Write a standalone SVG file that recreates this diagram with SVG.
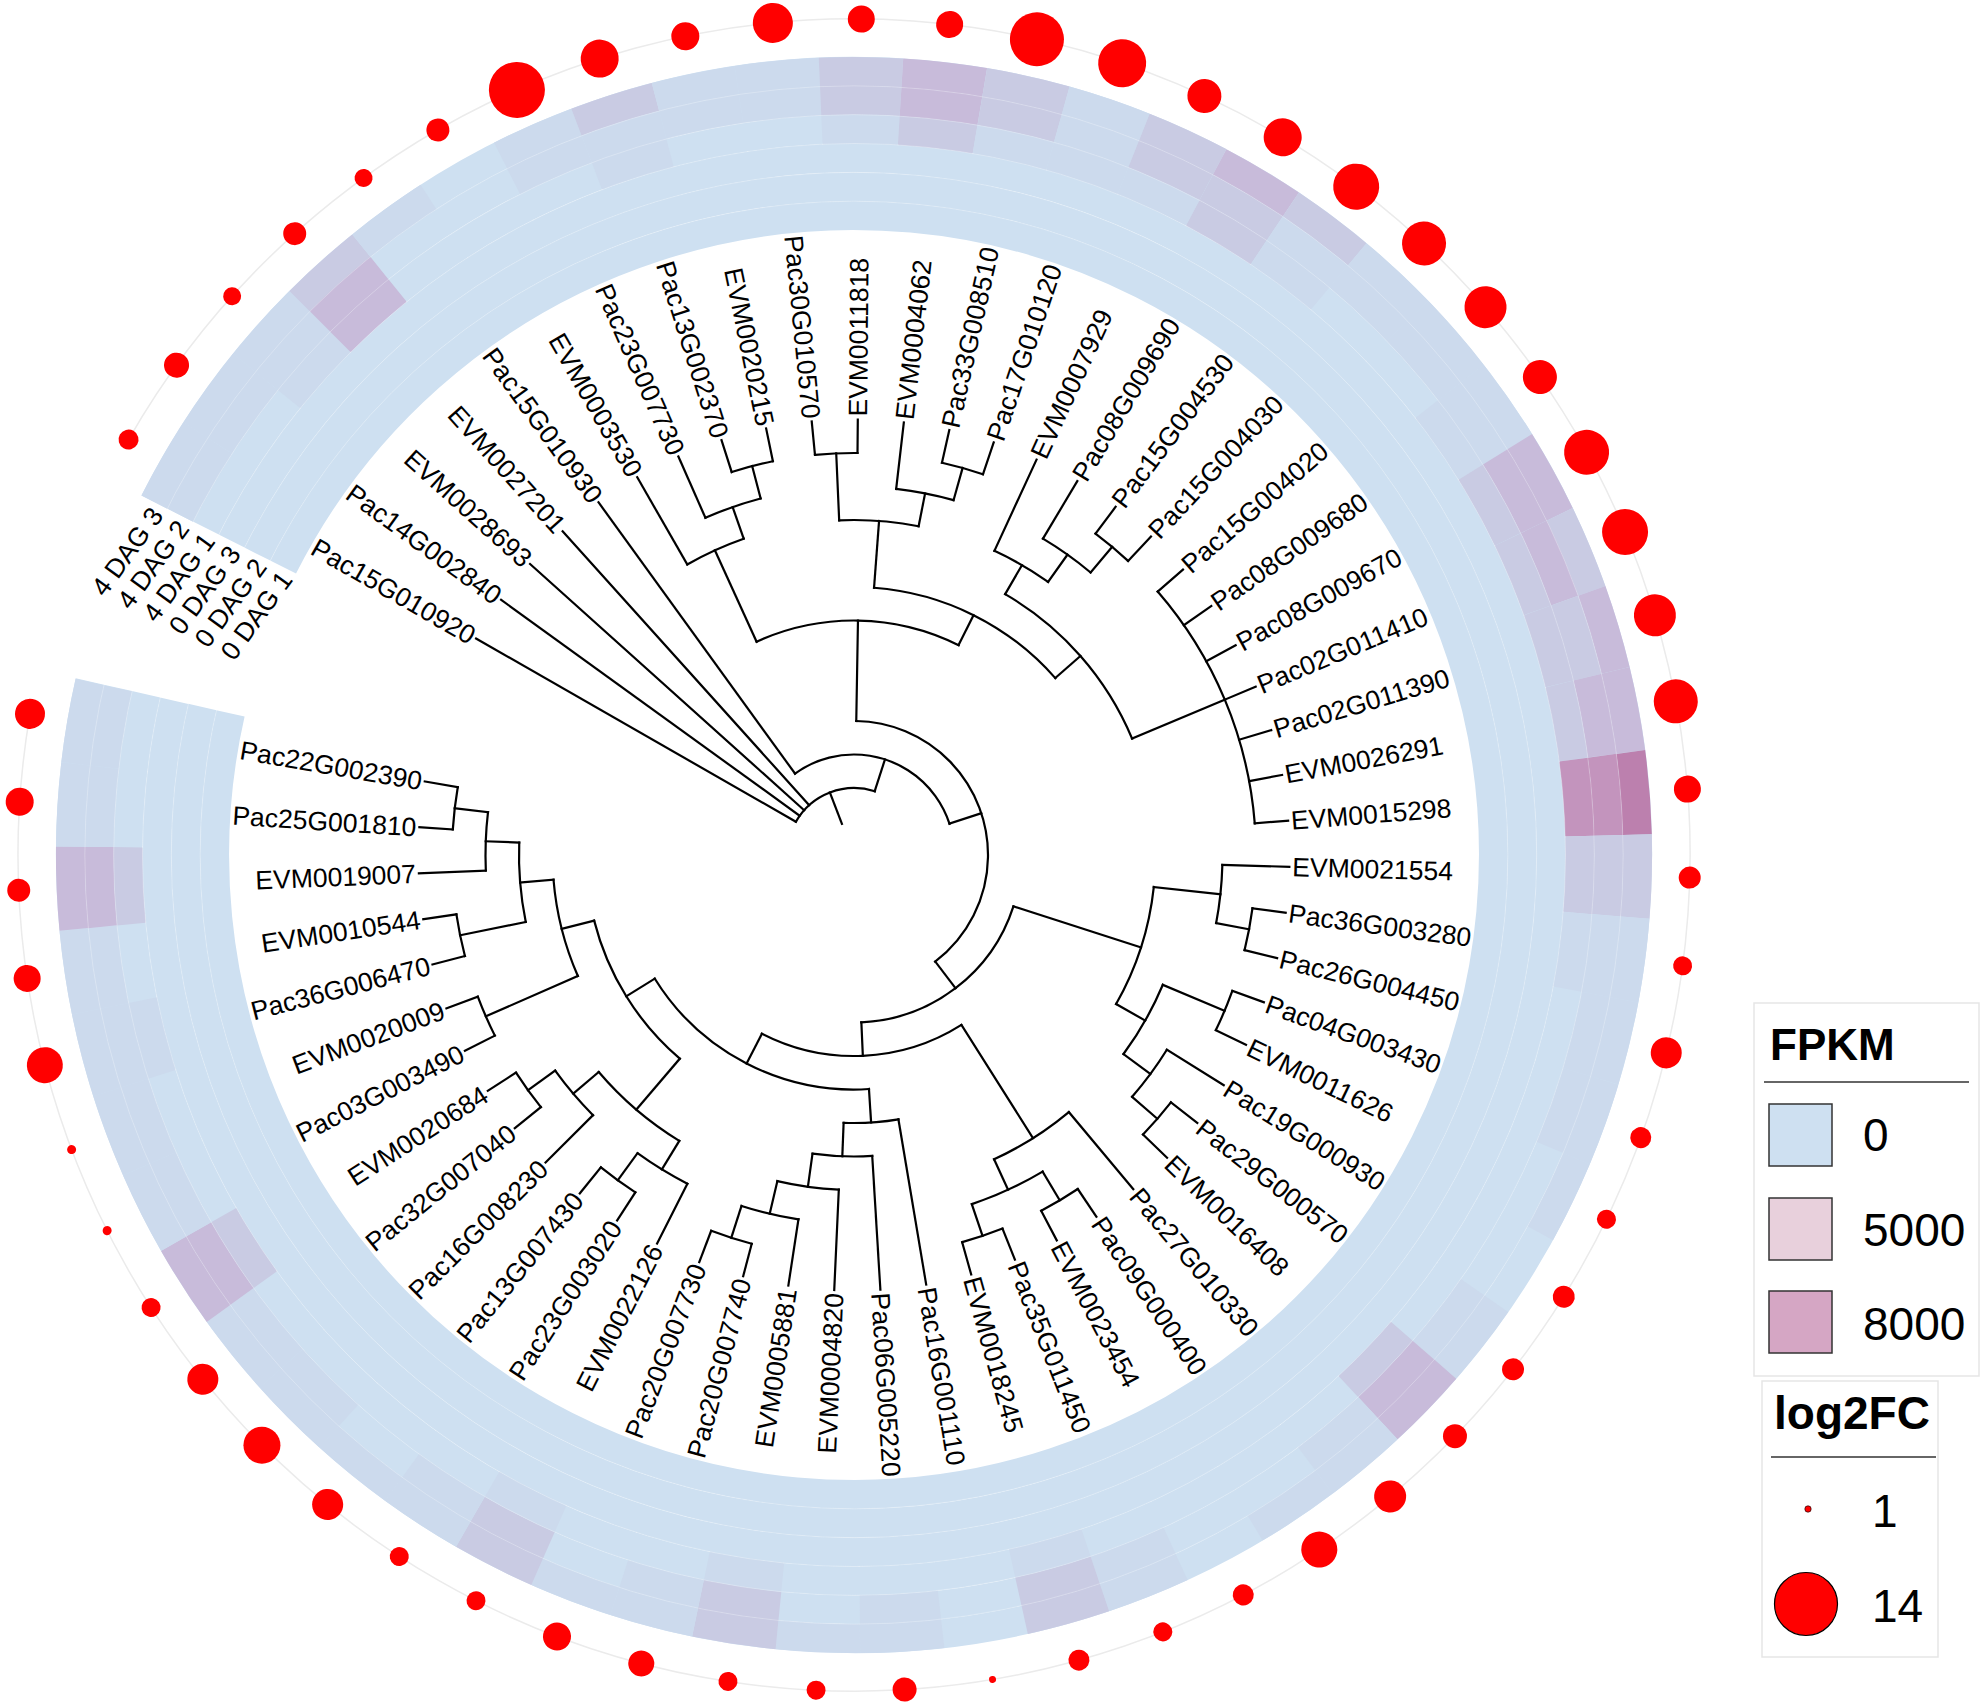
<svg xmlns="http://www.w3.org/2000/svg" xmlns:xlink="http://www.w3.org/1999/xlink" width="1983" height="1705" viewBox="0 0 1983 1705">
<style>
.t{font-family:"Liberation Sans",Arial,sans-serif;font-size:26.5px;fill:#000}
.l{text-anchor:end}
.br path,.br circle{fill:none;stroke:#000;stroke-width:2.2;stroke-linecap:square}
.c0{stroke:#cee0f1}.c1{stroke:#ccdaed}.c2{stroke:#c9cbe3}.c3{stroke:#c8bbda}.c4{stroke:#c394bd}.c5{stroke:#bc80ae}
.dots circle{fill:#ff0000}
.grid{fill:none;stroke:#fff;stroke-opacity:.25;stroke-width:1}
.lg{font-family:"Liberation Sans",Arial,sans-serif;fill:#000}
.lgb{font-weight:bold}
.box{fill:#fff;stroke:#e6e6e6;stroke-width:1.5}
.sw{stroke:#333;stroke-width:1.5}
</style>
<defs>
<circle id="k0" r="783.58" stroke-width="29" stroke-dasharray="83.01 9999" fill="none"/>
<circle id="k1" r="754.75" stroke-width="29" stroke-dasharray="79.96 9999" fill="none"/>
<circle id="k2" r="725.92" stroke-width="29" stroke-dasharray="76.91 9999" fill="none"/>
</defs>
<rect width="1983" height="1705" fill="#fff"/>
<g transform="translate(854 855)">
<g id="heatmap">
<circle class="c0" r="783.58" stroke-width="29" fill="none" stroke-dasharray="4731.8 9999" transform="rotate(206.765)"/>
<circle class="c0" r="754.75" stroke-width="29" fill="none" stroke-dasharray="4557.7 9999" transform="rotate(206.765)"/>
<circle class="c0" r="725.92" stroke-width="29" fill="none" stroke-dasharray="4383.6 9999" transform="rotate(206.765)"/>
<circle class="c0" r="697.08" stroke-width="29" fill="none" stroke-dasharray="4209.4 9999" transform="rotate(206.765)"/>
<circle class="c0" r="668.25" stroke-width="29" fill="none" stroke-dasharray="4035.4 9999" transform="rotate(206.765)"/>
<circle class="c0" r="639.42" stroke-width="29" fill="none" stroke-dasharray="3861.3 9999" transform="rotate(206.765)"/>
<use href="#k0" class="c1" transform="rotate(206.765)"/><use href="#k1" class="c1" transform="rotate(206.765)"/>
<use href="#k0" class="c1" transform="rotate(212.835)"/><use href="#k1" class="c1" transform="rotate(212.835)"/>
<use href="#k0" class="c1" transform="rotate(218.905)"/><use href="#k1" class="c1" transform="rotate(218.905)"/><use href="#k2" class="c1" transform="rotate(218.905)"/>
<use href="#k0" class="c2" transform="rotate(224.975)"/><use href="#k1" class="c3" transform="rotate(224.975)"/><use href="#k2" class="c3" transform="rotate(224.975)"/>
<use href="#k0" class="c1" transform="rotate(231.045)"/>
<use href="#k0" class="c1" transform="rotate(243.185)"/><use href="#k1" class="c1" transform="rotate(243.185)"/>
<use href="#k0" class="c2" transform="rotate(249.255)"/><use href="#k1" class="c1" transform="rotate(249.255)"/><use href="#k2" class="c1" transform="rotate(249.255)"/>
<use href="#k0" class="c1" transform="rotate(255.325)"/><use href="#k1" class="c1" transform="rotate(255.325)"/>
<use href="#k0" class="c1" transform="rotate(261.395)"/><use href="#k1" class="c1" transform="rotate(261.395)"/>
<use href="#k0" class="c2" transform="rotate(267.465)"/><use href="#k1" class="c2" transform="rotate(267.465)"/><use href="#k2" class="c1" transform="rotate(267.465)"/>
<use href="#k0" class="c3" transform="rotate(273.535)"/><use href="#k1" class="c3" transform="rotate(273.535)"/><use href="#k2" class="c2" transform="rotate(273.535)"/>
<use href="#k0" class="c2" transform="rotate(279.605)"/><use href="#k1" class="c2" transform="rotate(279.605)"/><use href="#k2" class="c1" transform="rotate(279.605)"/>
<use href="#k0" class="c1" transform="rotate(285.675)"/><use href="#k1" class="c1" transform="rotate(285.675)"/><use href="#k2" class="c1" transform="rotate(285.675)"/>
<use href="#k0" class="c2" transform="rotate(291.745)"/><use href="#k1" class="c2" transform="rotate(291.745)"/><use href="#k2" class="c1" transform="rotate(291.745)"/>
<use href="#k0" class="c3" transform="rotate(297.815)"/><use href="#k1" class="c2" transform="rotate(297.815)"/><use href="#k2" class="c2" transform="rotate(297.815)"/>
<use href="#k0" class="c2" transform="rotate(303.885)"/><use href="#k1" class="c1" transform="rotate(303.885)"/><use href="#k2" class="c1" transform="rotate(303.885)"/>
<use href="#k0" class="c1" transform="rotate(309.955)"/><use href="#k1" class="c1" transform="rotate(309.955)"/>
<use href="#k0" class="c1" transform="rotate(316.025)"/><use href="#k1" class="c1" transform="rotate(316.025)"/>
<use href="#k0" class="c1" transform="rotate(322.095)"/><use href="#k1" class="c1" transform="rotate(322.095)"/><use href="#k2" class="c1" transform="rotate(322.095)"/>
<use href="#k0" class="c3" transform="rotate(328.165)"/><use href="#k1" class="c3" transform="rotate(328.165)"/><use href="#k2" class="c2" transform="rotate(328.165)"/>
<use href="#k0" class="c2" transform="rotate(334.235)"/><use href="#k1" class="c3" transform="rotate(334.235)"/><use href="#k2" class="c2" transform="rotate(334.235)"/>
<use href="#k0" class="c3" transform="rotate(340.305)"/><use href="#k1" class="c2" transform="rotate(340.305)"/><use href="#k2" class="c2" transform="rotate(340.305)"/>
<use href="#k0" class="c3" transform="rotate(346.375)"/><use href="#k1" class="c3" transform="rotate(346.375)"/><use href="#k2" class="c2" transform="rotate(346.375)"/>
<use href="#k0" class="c5" transform="rotate(352.445)"/><use href="#k1" class="c4" transform="rotate(352.445)"/><use href="#k2" class="c4" transform="rotate(352.445)"/>
<use href="#k0" class="c2" transform="rotate(358.515)"/><use href="#k1" class="c2" transform="rotate(358.515)"/><use href="#k2" class="c2" transform="rotate(358.515)"/>
<use href="#k0" class="c1" transform="rotate(364.585)"/><use href="#k1" class="c1" transform="rotate(364.585)"/><use href="#k2" class="c1" transform="rotate(364.585)"/>
<use href="#k0" class="c1" transform="rotate(370.655)"/><use href="#k1" class="c1" transform="rotate(370.655)"/>
<use href="#k0" class="c1" transform="rotate(376.725)"/><use href="#k1" class="c1" transform="rotate(376.725)"/>
<use href="#k0" class="c1" transform="rotate(382.795)"/>
<use href="#k0" class="c1" transform="rotate(394.935)"/><use href="#k1" class="c1" transform="rotate(394.935)"/>
<use href="#k0" class="c3" transform="rotate(401.005)"/><use href="#k1" class="c3" transform="rotate(401.005)"/><use href="#k2" class="c2" transform="rotate(401.005)"/>
<use href="#k0" class="c1" transform="rotate(407.075)"/><use href="#k1" class="c1" transform="rotate(407.075)"/>
<use href="#k0" class="c1" transform="rotate(413.145)"/>
<use href="#k0" class="c1" transform="rotate(425.285)"/><use href="#k1" class="c1" transform="rotate(425.285)"/>
<use href="#k0" class="c2" transform="rotate(431.355)"/><use href="#k1" class="c2" transform="rotate(431.355)"/><use href="#k2" class="c1" transform="rotate(431.355)"/>
<use href="#k0" class="c1" transform="rotate(443.495)"/><use href="#k1" class="c1" transform="rotate(443.495)"/>
<use href="#k0" class="c1" transform="rotate(449.565)"/>
<use href="#k0" class="c2" transform="rotate(455.635)"/><use href="#k1" class="c2" transform="rotate(455.635)"/><use href="#k2" class="c1" transform="rotate(455.635)"/>
<use href="#k0" class="c1" transform="rotate(461.705)"/><use href="#k1" class="c1" transform="rotate(461.705)"/>
<use href="#k0" class="c1" transform="rotate(467.775)"/>
<use href="#k0" class="c2" transform="rotate(473.845)"/><use href="#k1" class="c2" transform="rotate(473.845)"/><use href="#k2" class="c1" transform="rotate(473.845)"/>
<use href="#k0" class="c1" transform="rotate(479.915)"/><use href="#k1" class="c1" transform="rotate(479.915)"/>
<use href="#k0" class="c1" transform="rotate(485.985)"/>
<use href="#k0" class="c1" transform="rotate(492.055)"/><use href="#k1" class="c1" transform="rotate(492.055)"/>
<use href="#k0" class="c1" transform="rotate(498.125)"/><use href="#k1" class="c1" transform="rotate(498.125)"/>
<use href="#k0" class="c3" transform="rotate(504.195)"/><use href="#k1" class="c3" transform="rotate(504.195)"/><use href="#k2" class="c2" transform="rotate(504.195)"/>
<use href="#k0" class="c1" transform="rotate(510.265)"/><use href="#k1" class="c1" transform="rotate(510.265)"/>
<use href="#k0" class="c1" transform="rotate(516.335)"/><use href="#k1" class="c1" transform="rotate(516.335)"/>
<use href="#k0" class="c1" transform="rotate(522.405)"/><use href="#k1" class="c1" transform="rotate(522.405)"/><use href="#k2" class="c1" transform="rotate(522.405)"/>
<use href="#k0" class="c1" transform="rotate(528.475)"/><use href="#k1" class="c1" transform="rotate(528.475)"/>
<use href="#k0" class="c3" transform="rotate(534.545)"/><use href="#k1" class="c3" transform="rotate(534.545)"/><use href="#k2" class="c2" transform="rotate(534.545)"/>
<use href="#k0" class="c1" transform="rotate(540.615)"/><use href="#k1" class="c1" transform="rotate(540.615)"/>
<use href="#k0" class="c1" transform="rotate(546.685)"/><use href="#k1" class="c1" transform="rotate(546.685)"/>
<circle class="grid" r="711.5" stroke-width="174" stroke-dasharray="1.2 74.178" transform="rotate(206.717)"/>
<circle class="grid" r="653.83"/><circle class="grid" r="682.67"/><circle class="grid" r="711.5"/><circle class="grid" r="740.33"/><circle class="grid" r="769.17"/>
</g>
<circle r="836" fill="none" stroke="#ebebeb" stroke-width="1.5" stroke-dasharray="4959.8 9999" transform="rotate(209.8)"/>
<g id="log2fc-dots" class="dots">
<circle cx="836" r="10" transform="rotate(209.8)"/>
<circle cx="836" r="12.5" transform="rotate(215.87)"/>
<circle cx="836" r="9" transform="rotate(221.94)"/>
<circle cx="836" r="11.5" transform="rotate(228.01)"/>
<circle cx="836" r="9" transform="rotate(234.08)"/>
<circle cx="836" r="11.5" transform="rotate(240.15)"/>
<circle cx="836" r="28" transform="rotate(246.22)"/>
<circle cx="836" r="19" transform="rotate(252.29)"/>
<circle cx="836" r="14" transform="rotate(258.36)"/>
<circle cx="836" r="20" transform="rotate(264.43)"/>
<circle cx="836" r="13.5" transform="rotate(270.5)"/>
<circle cx="836" r="13.5" transform="rotate(276.57)"/>
<circle cx="836" r="27" transform="rotate(282.64)"/>
<circle cx="836" r="24" transform="rotate(288.71)"/>
<circle cx="836" r="17" transform="rotate(294.78)"/>
<circle cx="836" r="19" transform="rotate(300.85)"/>
<circle cx="836" r="23" transform="rotate(306.92)"/>
<circle cx="836" r="22" transform="rotate(312.99)"/>
<circle cx="836" r="21" transform="rotate(319.06)"/>
<circle cx="836" r="17" transform="rotate(325.13)"/>
<circle cx="836" r="22.5" transform="rotate(331.2)"/>
<circle cx="836" r="23" transform="rotate(337.27)"/>
<circle cx="836" r="21" transform="rotate(343.34)"/>
<circle cx="836" r="22" transform="rotate(349.41)"/>
<circle cx="836" r="13.5" transform="rotate(355.48)"/>
<circle cx="836" r="11" transform="rotate(361.55)"/>
<circle cx="836" r="9.5" transform="rotate(367.62)"/>
<circle cx="836" r="15.5" transform="rotate(373.69)"/>
<circle cx="836" r="10.5" transform="rotate(379.76)"/>
<circle cx="836" r="9.5" transform="rotate(385.83)"/>
<circle cx="836" r="11" transform="rotate(391.9)"/>
<circle cx="836" r="11" transform="rotate(397.97)"/>
<circle cx="836" r="12" transform="rotate(404.04)"/>
<circle cx="836" r="16" transform="rotate(410.11)"/>
<circle cx="836" r="18" transform="rotate(416.18)"/>
<circle cx="836" r="10.5" transform="rotate(422.25)"/>
<circle cx="836" r="9.5" transform="rotate(428.32)"/>
<circle cx="836" r="10.5" transform="rotate(434.39)"/>
<circle cx="836" r="3.5" transform="rotate(440.46)"/>
<circle cx="836" r="12" transform="rotate(446.53)"/>
<circle cx="836" r="9.5" transform="rotate(452.6)"/>
<circle cx="836" r="9.5" transform="rotate(458.67)"/>
<circle cx="836" r="13" transform="rotate(464.74)"/>
<circle cx="836" r="14" transform="rotate(470.81)"/>
<circle cx="836" r="9.5" transform="rotate(476.88)"/>
<circle cx="836" r="9.5" transform="rotate(482.95)"/>
<circle cx="836" r="15.5" transform="rotate(489.02)"/>
<circle cx="836" r="18.5" transform="rotate(495.09)"/>
<circle cx="836" r="15.5" transform="rotate(501.16)"/>
<circle cx="836" r="9.5" transform="rotate(507.23)"/>
<circle cx="836" r="4.5" transform="rotate(513.3)"/>
<circle cx="836" r="4.5" transform="rotate(519.37)"/>
<circle cx="836" r="18" transform="rotate(525.44)"/>
<circle cx="836" r="13.5" transform="rotate(531.51)"/>
<circle cx="836" r="11.5" transform="rotate(537.58)"/>
<circle cx="836" r="14" transform="rotate(543.65)"/>
<circle cx="836" r="15" transform="rotate(549.72)"/>
</g>
<g id="connectors" class="br">
<path transform="rotate(248.875)" d="M33.5 0H67"/>
<circle r="67" stroke-dasharray="91.39 9999" transform="rotate(209.8)"/>
<circle r="100.5" stroke-dasharray="188.98 9999" transform="rotate(234.08)"/>
<circle r="134" stroke-dasharray="331.4 9999" transform="rotate(270.97)"/>
<circle r="234.5" stroke-dasharray="208.84 9999" transform="rotate(245.46)"/>
<circle r="335" stroke-dasharray="62.11 9999" transform="rotate(240.15)"/>
<circle r="368.5" stroke-dasharray="58.56 9999" transform="rotate(246.22)"/>
<circle r="402" stroke-dasharray="42.59 9999" transform="rotate(252.29)"/>
<circle r="268" stroke-dasharray="207.63 9999" transform="rotate(274.29)"/>
<circle r="335" stroke-dasharray="79.85 9999" transform="rotate(267.465)"/>
<circle r="402" stroke-dasharray="42.59 9999" transform="rotate(264.43)"/>
<circle r="368.5" stroke-dasharray="58.56 9999" transform="rotate(276.57)"/>
<circle r="402" stroke-dasharray="42.59 9999" transform="rotate(282.64)"/>
<circle r="301.5" stroke-dasharray="195.65 9999" transform="rotate(300.09)"/>
<circle r="335" stroke-dasharray="62.11 9999" transform="rotate(294.78)"/>
<circle r="368.5" stroke-dasharray="58.56 9999" transform="rotate(300.85)"/>
<circle r="402" stroke-dasharray="42.59 9999" transform="rotate(306.92)"/>
<circle r="402" stroke-dasharray="255.53 9999" transform="rotate(319.06)"/>
<circle r="167.5" stroke-dasharray="203.53 9999" transform="rotate(377.86)"/>
<circle r="301.5" stroke-dasharray="123.75 9999" transform="rotate(366.1025)"/>
<circle r="368.5" stroke-dasharray="58.56 9999" transform="rotate(361.55)"/>
<circle r="402" stroke-dasharray="42.59 9999" transform="rotate(367.62)"/>
<circle r="335" stroke-dasharray="79.85 9999" transform="rotate(382.795)"/>
<circle r="402" stroke-dasharray="42.59 9999" transform="rotate(379.76)"/>
<circle r="368.5" stroke-dasharray="58.56 9999" transform="rotate(391.9)"/>
<circle r="402" stroke-dasharray="42.59 9999" transform="rotate(397.97)"/>
<circle r="201" stroke-dasharray="208.94 9999" transform="rotate(417.7)"/>
<circle r="335" stroke-dasharray="88.73 9999" transform="rotate(410.11)"/>
<circle r="368.5" stroke-dasharray="78.08 9999" transform="rotate(419.215)"/>
<circle r="402" stroke-dasharray="42.59 9999" transform="rotate(416.18)"/>
<circle r="402" stroke-dasharray="42.59 9999" transform="rotate(428.32)"/>
<circle r="234.5" stroke-dasharray="253.1 9999" transform="rotate(446.34)"/>
<circle r="268" stroke-dasharray="55.01 9999" transform="rotate(440.46)"/>
<circle r="301.5" stroke-dasharray="59.88 9999" transform="rotate(446.53)"/>
<circle r="335" stroke-dasharray="62.09 9999" transform="rotate(452.6)"/>
<circle r="368.5" stroke-dasharray="58.56 9999" transform="rotate(458.67)"/>
<circle r="402" stroke-dasharray="42.59 9999" transform="rotate(464.74)"/>
<circle r="268" stroke-dasharray="165.02 9999" transform="rotate(490.54)"/>
<circle r="335" stroke-dasharray="106.47 9999" transform="rotate(481.43)"/>
<circle r="368.5" stroke-dasharray="58.56 9999" transform="rotate(476.88)"/>
<circle r="402" stroke-dasharray="42.59 9999" transform="rotate(482.95)"/>
<circle r="368.5" stroke-dasharray="58.56 9999" transform="rotate(495.09)"/>
<circle r="402" stroke-dasharray="42.59 9999" transform="rotate(501.16)"/>
<circle r="301.5" stroke-dasharray="99.8 9999" transform="rotate(516.335)"/>
<circle r="402" stroke-dasharray="42.59 9999" transform="rotate(513.3)"/>
<circle r="335" stroke-dasharray="79.84 9999" transform="rotate(528.475)"/>
<circle r="402" stroke-dasharray="42.59 9999" transform="rotate(525.44)"/>
<circle r="368.5" stroke-dasharray="58.56 9999" transform="rotate(537.58)"/>
<circle r="402" stroke-dasharray="42.59 9999" transform="rotate(543.65)"/>
<path transform="rotate(209.8)" d="M67 0H435.5"/>
<path transform="rotate(215.87)" d="M67 0H435.5"/>
<path transform="rotate(221.94)" d="M67 0H435.5"/>
<path transform="rotate(228.01)" d="M67 0H435.5"/>
<path transform="rotate(287.95)" d="M67 0H100.5"/>
<path transform="rotate(234.08)" d="M100.5 0H435.5"/>
<path transform="rotate(341.82)" d="M100.5 0H134"/>
<path transform="rotate(270.97)" d="M134 0H234.5"/>
<path transform="rotate(412.67)" d="M134 0H167.5"/>
<path transform="rotate(245.46)" d="M234.5 0H335"/>
<path transform="rotate(296.485)" d="M234.5 0H268"/>
<path transform="rotate(240.15)" d="M335 0H435.5"/>
<path transform="rotate(250.7725)" d="M335 0H368.5"/>
<path transform="rotate(246.22)" d="M368.5 0H435.5"/>
<path transform="rotate(255.325)" d="M368.5 0H402"/>
<path transform="rotate(252.29)" d="M402 0H435.5"/>
<path transform="rotate(258.36)" d="M402 0H435.5"/>
<path transform="rotate(274.29)" d="M268 0H335"/>
<path transform="rotate(318.68)" d="M268 0H301.5"/>
<path transform="rotate(267.465)" d="M335 0H402"/>
<path transform="rotate(281.1225)" d="M335 0H368.5"/>
<path transform="rotate(264.43)" d="M402 0H435.5"/>
<path transform="rotate(270.5)" d="M402 0H435.5"/>
<path transform="rotate(276.57)" d="M368.5 0H435.5"/>
<path transform="rotate(285.675)" d="M368.5 0H402"/>
<path transform="rotate(282.64)" d="M402 0H435.5"/>
<path transform="rotate(288.71)" d="M402 0H435.5"/>
<path transform="rotate(300.09)" d="M301.5 0H335"/>
<path transform="rotate(337.27)" d="M301.5 0H402"/>
<path transform="rotate(294.78)" d="M335 0H435.5"/>
<path transform="rotate(305.4025)" d="M335 0H368.5"/>
<path transform="rotate(300.85)" d="M368.5 0H435.5"/>
<path transform="rotate(309.955)" d="M368.5 0H402"/>
<path transform="rotate(306.92)" d="M402 0H435.5"/>
<path transform="rotate(312.99)" d="M402 0H435.5"/>
<path transform="rotate(319.06)" d="M402 0H435.5"/>
<path transform="rotate(325.13)" d="M402 0H435.5"/>
<path transform="rotate(331.2)" d="M402 0H435.5"/>
<path transform="rotate(337.27)" d="M402 0H435.5"/>
<path transform="rotate(343.34)" d="M402 0H435.5"/>
<path transform="rotate(349.41)" d="M402 0H435.5"/>
<path transform="rotate(355.48)" d="M402 0H435.5"/>
<path transform="rotate(377.86)" d="M167.5 0H301.5"/>
<path transform="rotate(447.48)" d="M167.5 0H201"/>
<path transform="rotate(366.1025)" d="M301.5 0H368.5"/>
<path transform="rotate(389.62)" d="M301.5 0H335"/>
<path transform="rotate(361.55)" d="M368.5 0H435.5"/>
<path transform="rotate(370.655)" d="M368.5 0H402"/>
<path transform="rotate(367.62)" d="M402 0H435.5"/>
<path transform="rotate(373.69)" d="M402 0H435.5"/>
<path transform="rotate(382.795)" d="M335 0H402"/>
<path transform="rotate(396.4525)" d="M335 0H368.5"/>
<path transform="rotate(379.76)" d="M402 0H435.5"/>
<path transform="rotate(385.83)" d="M402 0H435.5"/>
<path transform="rotate(391.9)" d="M368.5 0H435.5"/>
<path transform="rotate(401.005)" d="M368.5 0H402"/>
<path transform="rotate(397.97)" d="M402 0H435.5"/>
<path transform="rotate(404.04)" d="M402 0H435.5"/>
<path transform="rotate(417.7)" d="M201 0H335"/>
<path transform="rotate(477.26)" d="M201 0H234.5"/>
<path transform="rotate(410.11)" d="M335 0H435.5"/>
<path transform="rotate(425.285)" d="M335 0H368.5"/>
<path transform="rotate(419.215)" d="M368.5 0H402"/>
<path transform="rotate(431.355)" d="M368.5 0H402"/>
<path transform="rotate(416.18)" d="M402 0H435.5"/>
<path transform="rotate(422.25)" d="M402 0H435.5"/>
<path transform="rotate(428.32)" d="M402 0H435.5"/>
<path transform="rotate(434.39)" d="M402 0H435.5"/>
<path transform="rotate(446.34)" d="M234.5 0H268"/>
<path transform="rotate(508.18)" d="M234.5 0H268"/>
<path transform="rotate(440.46)" d="M268 0H435.5"/>
<path transform="rotate(452.22)" d="M268 0H301.5"/>
<path transform="rotate(446.53)" d="M301.5 0H435.5"/>
<path transform="rotate(457.91)" d="M301.5 0H335"/>
<path transform="rotate(452.6)" d="M335 0H435.5"/>
<path transform="rotate(463.22)" d="M335 0H368.5"/>
<path transform="rotate(458.67)" d="M368.5 0H435.5"/>
<path transform="rotate(467.775)" d="M368.5 0H402"/>
<path transform="rotate(464.74)" d="M402 0H435.5"/>
<path transform="rotate(470.81)" d="M402 0H435.5"/>
<path transform="rotate(490.54)" d="M268 0H335"/>
<path transform="rotate(525.82)" d="M268 0H301.5"/>
<path transform="rotate(481.43)" d="M335 0H368.5"/>
<path transform="rotate(499.64)" d="M335 0H368.5"/>
<path transform="rotate(476.88)" d="M368.5 0H435.5"/>
<path transform="rotate(485.985)" d="M368.5 0H402"/>
<path transform="rotate(482.95)" d="M402 0H435.5"/>
<path transform="rotate(489.02)" d="M402 0H435.5"/>
<path transform="rotate(495.09)" d="M368.5 0H435.5"/>
<path transform="rotate(504.195)" d="M368.5 0H402"/>
<path transform="rotate(501.16)" d="M402 0H435.5"/>
<path transform="rotate(507.23)" d="M402 0H435.5"/>
<path transform="rotate(516.335)" d="M301.5 0H402"/>
<path transform="rotate(535.3)" d="M301.5 0H335"/>
<path transform="rotate(513.3)" d="M402 0H435.5"/>
<path transform="rotate(519.37)" d="M402 0H435.5"/>
<path transform="rotate(528.475)" d="M335 0H402"/>
<path transform="rotate(542.13)" d="M335 0H368.5"/>
<path transform="rotate(525.44)" d="M402 0H435.5"/>
<path transform="rotate(531.51)" d="M402 0H435.5"/>
<path transform="rotate(537.58)" d="M368.5 0H435.5"/>
<path transform="rotate(546.685)" d="M368.5 0H402"/>
<path transform="rotate(543.65)" d="M402 0H435.5"/>
<path transform="rotate(549.72)" d="M402 0H435.5"/>
</g>
<g id="leaves" class="t">
<g id="leaf01"><text class="l" transform="rotate(209.8) translate(438.5 0) rotate(180)" dy=".35em">Pac15G010920</text></g>
<g id="leaf02"><text class="l" transform="rotate(215.87) translate(438.5 0) rotate(180)" dy=".35em">Pac14G002840</text></g>
<g id="leaf03"><text class="l" transform="rotate(221.94) translate(438.5 0) rotate(180)" dy=".35em">EVM0028693</text></g>
<g id="leaf04"><text class="l" transform="rotate(228.01) translate(438.5 0) rotate(180)" dy=".35em">EVM0027201</text></g>
<g id="leaf05"><text class="l" transform="rotate(234.08) translate(438.5 0) rotate(180)" dy=".35em">Pac15G010930</text></g>
<g id="leaf06"><text class="l" transform="rotate(240.15) translate(438.5 0) rotate(180)" dy=".35em">EVM0003530</text></g>
<g id="leaf07"><text class="l" transform="rotate(246.22) translate(438.5 0) rotate(180)" dy=".35em">Pac23G007730</text></g>
<g id="leaf08"><text class="l" transform="rotate(252.29) translate(438.5 0) rotate(180)" dy=".35em">Pac13G002370</text></g>
<g id="leaf09"><text class="l" transform="rotate(258.36) translate(438.5 0) rotate(180)" dy=".35em">EVM0020215</text></g>
<g id="leaf10"><text class="l" transform="rotate(264.43) translate(438.5 0) rotate(180)" dy=".35em">Pac30G010570</text></g>
<g id="leaf11"><text transform="rotate(270.5) translate(438.5 0)" dy=".35em">EVM0011818</text></g>
<g id="leaf12"><text transform="rotate(276.57) translate(438.5 0)" dy=".35em">EVM0004062</text></g>
<g id="leaf13"><text transform="rotate(282.64) translate(438.5 0)" dy=".35em">Pac33G008510</text></g>
<g id="leaf14"><text transform="rotate(288.71) translate(438.5 0)" dy=".35em">Pac17G010120</text></g>
<g id="leaf15"><text transform="rotate(294.78) translate(438.5 0)" dy=".35em">EVM0007929</text></g>
<g id="leaf16"><text transform="rotate(300.85) translate(438.5 0)" dy=".35em">Pac08G009690</text></g>
<g id="leaf17"><text transform="rotate(306.92) translate(438.5 0)" dy=".35em">Pac15G004530</text></g>
<g id="leaf18"><text transform="rotate(312.99) translate(438.5 0)" dy=".35em">Pac15G004030</text></g>
<g id="leaf19"><text transform="rotate(319.06) translate(438.5 0)" dy=".35em">Pac15G004020</text></g>
<g id="leaf20"><text transform="rotate(325.13) translate(438.5 0)" dy=".35em">Pac08G009680</text></g>
<g id="leaf21"><text transform="rotate(331.2) translate(438.5 0)" dy=".35em">Pac08G009670</text></g>
<g id="leaf22"><text transform="rotate(337.27) translate(438.5 0)" dy=".35em">Pac02G011410</text></g>
<g id="leaf23"><text transform="rotate(343.34) translate(438.5 0)" dy=".35em">Pac02G011390</text></g>
<g id="leaf24"><text transform="rotate(349.41) translate(438.5 0)" dy=".35em">EVM0026291</text></g>
<g id="leaf25"><text transform="rotate(355.48) translate(438.5 0)" dy=".35em">EVM0015298</text></g>
<g id="leaf26"><text transform="rotate(361.55) translate(438.5 0)" dy=".35em">EVM0021554</text></g>
<g id="leaf27"><text transform="rotate(367.62) translate(438.5 0)" dy=".35em">Pac36G003280</text></g>
<g id="leaf28"><text transform="rotate(373.69) translate(438.5 0)" dy=".35em">Pac26G004450</text></g>
<g id="leaf29"><text transform="rotate(379.76) translate(438.5 0)" dy=".35em">Pac04G003430</text></g>
<g id="leaf30"><text transform="rotate(385.83) translate(438.5 0)" dy=".35em">EVM0011626</text></g>
<g id="leaf31"><text transform="rotate(391.9) translate(438.5 0)" dy=".35em">Pac19G000930</text></g>
<g id="leaf32"><text transform="rotate(397.97) translate(438.5 0)" dy=".35em">Pac29G000570</text></g>
<g id="leaf33"><text transform="rotate(404.04) translate(438.5 0)" dy=".35em">EVM0016408</text></g>
<g id="leaf34"><text transform="rotate(410.11) translate(438.5 0)" dy=".35em">Pac27G010330</text></g>
<g id="leaf35"><text transform="rotate(416.18) translate(438.5 0)" dy=".35em">Pac09G000400</text></g>
<g id="leaf36"><text transform="rotate(422.25) translate(438.5 0)" dy=".35em">EVM0023454</text></g>
<g id="leaf37"><text transform="rotate(428.32) translate(438.5 0)" dy=".35em">Pac35G011450</text></g>
<g id="leaf38"><text transform="rotate(434.39) translate(438.5 0)" dy=".35em">EVM0018245</text></g>
<g id="leaf39"><text transform="rotate(440.46) translate(438.5 0)" dy=".35em">Pac16G001110</text></g>
<g id="leaf40"><text transform="rotate(446.53) translate(438.5 0)" dy=".35em">Pac06G005220</text></g>
<g id="leaf41"><text class="l" transform="rotate(452.6) translate(438.5 0) rotate(180)" dy=".35em">EVM0004820</text></g>
<g id="leaf42"><text class="l" transform="rotate(458.67) translate(438.5 0) rotate(180)" dy=".35em">EVM0005881</text></g>
<g id="leaf43"><text class="l" transform="rotate(464.74) translate(438.5 0) rotate(180)" dy=".35em">Pac20G007740</text></g>
<g id="leaf44"><text class="l" transform="rotate(470.81) translate(438.5 0) rotate(180)" dy=".35em">Pac20G007730</text></g>
<g id="leaf45"><text class="l" transform="rotate(476.88) translate(438.5 0) rotate(180)" dy=".35em">EVM0022126</text></g>
<g id="leaf46"><text class="l" transform="rotate(482.95) translate(438.5 0) rotate(180)" dy=".35em">Pac23G003020</text></g>
<g id="leaf47"><text class="l" transform="rotate(489.02) translate(438.5 0) rotate(180)" dy=".35em">Pac13G007430</text></g>
<g id="leaf48"><text class="l" transform="rotate(495.09) translate(438.5 0) rotate(180)" dy=".35em">Pac16G008230</text></g>
<g id="leaf49"><text class="l" transform="rotate(501.16) translate(438.5 0) rotate(180)" dy=".35em">Pac32G007040</text></g>
<g id="leaf50"><text class="l" transform="rotate(507.23) translate(438.5 0) rotate(180)" dy=".35em">EVM0020684</text></g>
<g id="leaf51"><text class="l" transform="rotate(513.3) translate(438.5 0) rotate(180)" dy=".35em">Pac03G003490</text></g>
<g id="leaf52"><text class="l" transform="rotate(519.37) translate(438.5 0) rotate(180)" dy=".35em">EVM0020009</text></g>
<g id="leaf53"><text class="l" transform="rotate(525.44) translate(438.5 0) rotate(180)" dy=".35em">Pac36G006470</text></g>
<g id="leaf54"><text class="l" transform="rotate(531.51) translate(438.5 0) rotate(180)" dy=".35em">EVM0010544</text></g>
<g id="leaf55"><text class="l" transform="rotate(537.58) translate(438.5 0) rotate(180)" dy=".35em">EVM0019007</text></g>
<g id="leaf56"><text class="l" transform="rotate(543.65) translate(438.5 0) rotate(180)" dy=".35em">Pac25G001810</text></g>
<g id="leaf57"><text class="l" transform="rotate(549.72) translate(438.5 0) rotate(180)" dy=".35em">Pac22G002390</text></g>
</g>
</g>
<g id="column-labels" class="t">
<text class="l" transform="translate(156.9 510.4) rotate(-54)" dy=".35em">4 DAG 3</text>
<text class="l" transform="translate(182.8 523.3) rotate(-54)" dy=".35em">4 DAG 2</text>
<text class="l" transform="translate(208.6 536) rotate(-54)" dy=".35em">4 DAG 1</text>
<text class="l" transform="translate(234.4 548.8) rotate(-54)" dy=".35em">0 DAG 3</text>
<text class="l" transform="translate(260.3 561.5) rotate(-54)" dy=".35em">0 DAG 2</text>
<text class="l" transform="translate(286.2 574.3) rotate(-54)" dy=".35em">0 DAG 1</text>
</g>
<g id="legend-fpkm" class="lg">
<rect class="box" x="1754" y="1003" width="225" height="373"/>
<text class="lgb" x="1770" y="1060" font-size="44">FPKM</text>
<line x1="1764" y1="1082" x2="1969" y2="1082" stroke="#333" stroke-width="1.5"/>
<rect class="sw" x="1769" y="1104" width="63" height="62" fill="#cee0f1"/>
<rect class="sw" x="1769" y="1198" width="63" height="62" fill="#e8d0dc"/>
<rect class="sw" x="1769" y="1291" width="63" height="62" fill="#d5a6c4"/>
<text x="1863" y="1151" font-size="46">0</text>
<text x="1863" y="1246" font-size="46">5000</text>
<text x="1863" y="1340" font-size="46">8000</text>
</g>
<g id="legend-log2fc" class="lg">
<rect class="box" x="1762" y="1381" width="176" height="276"/>
<text class="lgb" x="1774" y="1429" font-size="46">log2FC</text>
<line x1="1771" y1="1457" x2="1936" y2="1457" stroke="#333" stroke-width="1.5"/>
<circle cx="1808" cy="1509" r="3.2" fill="#f00" stroke="#000" stroke-width=".6"/>
<circle cx="1806" cy="1604" r="31.5" fill="#f00" stroke="#000" stroke-width="1.2"/>
<text x="1872" y="1527" font-size="46">1</text>
<text x="1872" y="1622" font-size="46">14</text>
</g>
</svg>
